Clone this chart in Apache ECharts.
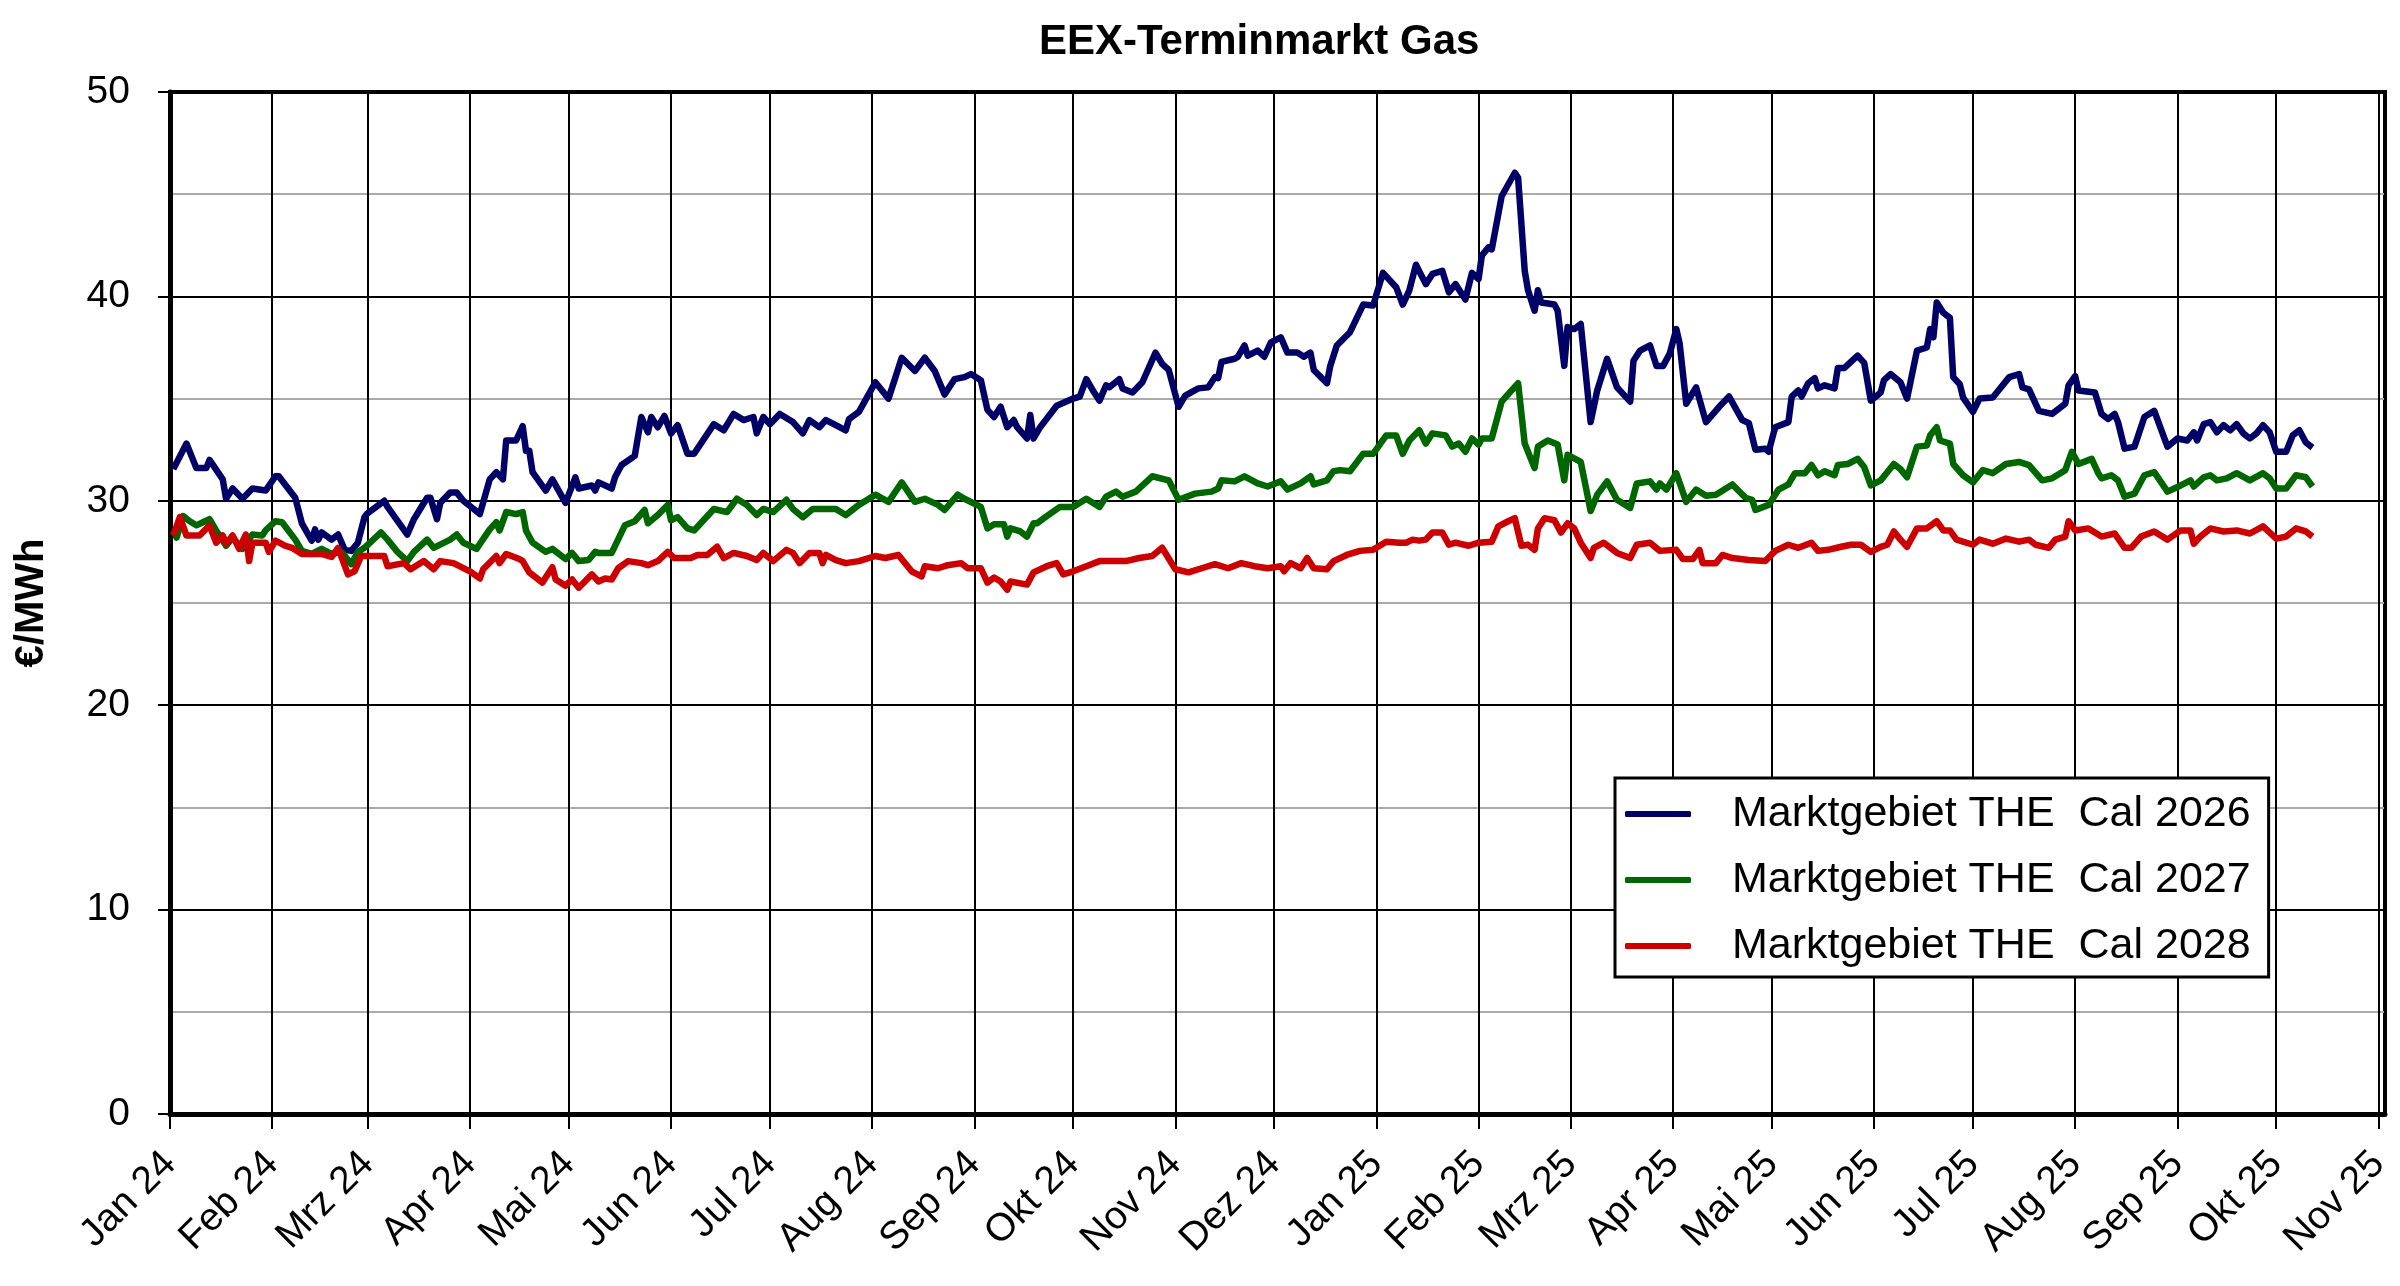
<!DOCTYPE html>
<html>
<head>
<meta charset="utf-8" />
<title>EEX-Terminmarkt Gas</title>
<script src="https://cdn.jsdelivr.net/npm/echarts@6/dist/echarts.min.js"></script>
<style>
  * { margin: 0; padding: 0; }
  html, body { width: 2400px; height: 1286px; background: #fff; }
</style>
</head>
<body>
<div id="main" style="width:2400px;height:1286px;"></div>
<script>
// Tage seit 01.01.2024, Preis in EUR/MWh
const cal2026 = [[1,31.55],[5,32.8],[8,31.6],[11,31.6],[12,32.0],[16,31.05],[17,30.1],[19,30.6],[22,30.1],[25,30.6],[29,30.5],[32,31.2],[33,31.2],[38,30.15],[40,28.9],[43,28.05],[44,28.6],[45,28.1],[46,28.45],[49,28.1],[51,28.35],[53,27.6],[55,27.55],[57,27.95],[59,29.2],[60,29.4],[65,30.0],[66,29.7],[72,28.35],[74,29.1],[78,30.15],[79,30.15],[81,29.1],[82,29.9],[85,30.4],[87,30.4],[89,30.0],[94,29.35],[97,31.05],[99,31.4],[101,31.05],[102,32.95],[105,32.95],[107,33.65],[108,32.45],[109,32.45],[110,31.4],[114,30.5],[116,31.05],[120,29.9],
  [123,31.15],[124,30.6],[128,30.75],[129,30.5],[130,30.9],[134,30.6],[135,31.15],[137,31.75],[141,32.2],[143,34.1],[145,33.35],[146,34.1],[148,33.6],[150,34.15],[152,33.3],[154,33.7],[157,32.3],[159,32.3],[165,33.75],[168,33.45],[171,34.25],[174,33.95],[177,34.1],[178,33.3],[180,34.1],[182,33.75],[185,34.25],[189,33.85],[192,33.3],[194,33.95],[197,33.6],[199,33.95],[202,33.7],[205,33.45],[206,34.0],[209,34.35],[214,35.8],[218,35.0],[222,37.0],[226,36.35],[229,37.0],[232,36.35],[235,35.2],[238,35.95],[241,36.05],[243,36.2],[246,35.9],
  [248,34.45],[250,34.1],[252,34.6],[254,33.6],[256,33.95],[257,33.6],[260,33.05],[261,34.2],[262,33.05],[264,33.6],[269,34.65],[274,35.0],[276,35.1],[278,35.95],[280,35.4],[282,34.9],[284,35.65],[285,35.55],[288,35.95],[289,35.5],[292,35.3],[295,35.8],[299,37.25],[301,36.7],[303,36.4],[306,34.6],[308,35.15],[312,35.5],[315,35.55],[317,36.05],[318,36.0],[319,36.8],[323,36.95],[324,37.05],[326,37.6],[327,37.1],[330,37.35],[332,37.05],[334,37.75],[337,38.0],[339,37.25],[342,37.25],[344,37.05],[346,37.25],[347,36.4],[351,35.75],[352,36.6],[354,37.6],[358,38.25],[362,39.6],[365,39.55],[368,41.15],[372,40.45],[374,39.6],
  [376,40.3],[378,41.55],[381,40.6],[383,41.1],[386,41.25],[388,40.2],[390,40.6],[393,39.85],[395,41.15],[397,40.85],[398,42.0],[400,42.4],[401,42.3],[404,44.9],[408,46.05],[409,45.8],[411,41.25],[412,40.3],[414,39.3],[415,40.3],[416,39.7],[420,39.6],[421,39.3],[423,36.6],[424,38.5],[426,38.4],[428,38.65],[431,33.85],[433,35.4],[436,36.95],[439,35.55],[443,34.85],[444,36.85],[446,37.35],[449,37.6],[451,36.6],[453,36.6],[455,37.2],[457,38.4],[458,37.7],[460,34.75],[463,35.55],[466,33.85],[470,34.6],[473,35.1],[477,33.95],[479,33.8],[481,32.5],[484,32.55],[485,32.4],[487,33.6],[491,33.85],[492,35.1],[494,35.4],[495,35.1],[497,35.75],[499,36.0],[500,35.5],[502,35.65],[505,35.5],
  [506,36.5],[508,36.5],[512,37.1],[514,36.75],[516,34.9],[519,35.3],[520,35.9],[522,36.2],[525,35.8],[527,35.0],[530,37.35],[533,37.5],[534,38.4],[535,38.0],[536,39.7],[538,39.2],[540,38.95],[541,36.05],[543,35.7],[544,35.05],[547,34.35],[549,35.0],[553,35.05],[558,36.05],[561,36.2],[562,35.55],[564,35.45],[567,34.4],[571,34.25],[575,34.75],[576,35.65],[578,36.1],[579,35.4],[584,35.3],[586,34.25],[588,34.0],[590,34.25],[591,33.85],[593,32.55],[596,32.65],[599,34.1],[602,34.4],[606,32.65],[609,33.05],[612,32.95],[614,33.35],[615,32.95],[617,33.75],[619,33.85],[621,33.35],[623,33.7],[625,33.45],[627,33.75],[629,33.3],[631,33.05],[633,33.3],[635,33.7],[637,33.35],[639,32.4],[642,32.4],[644,33.2],[646,33.45],[648,32.85],[650,32.6]];

const cal2027 = [[1,28.55],[2,28.2],[4,29.25],[6,29.0],[8,28.8],[10,28.95],[12,29.1],[14,28.55],[15,28.3],[17,27.8],[19,28.2],[22,27.65],[25,28.35],[28,28.3],[29,28.55],[32,29.0],[34,28.95],[38,28.1],[40,27.55],[43,27.4],[46,27.65],[49,27.4],[52,27.5],[55,26.9],[57,27.5],[59,27.7],[64,28.45],[66,28.1],[69,27.5],[72,27.05],[74,27.5],[78,28.1],[80,27.7],[85,28.1],[87,28.35],[89,27.95],[93,27.65],[97,28.6],[99,28.95],[100,28.55],[102,29.45],[105,29.35],[107,29.45],[108,28.55],[110,27.95],[114,27.5],[116,27.65],[120,27.15],
  [122,27.45],[124,27.05],[127,27.1],[129,27.5],[130,27.45],[132,27.45],[134,27.45],[138,28.8],[141,29.0],[144,29.55],[145,28.9],[148,29.3],[151,29.8],[152,29.05],[154,29.2],[157,28.65],[159,28.55],[165,29.6],[169,29.45],[172,30.1],[175,29.8],[178,29.3],[180,29.6],[183,29.45],[187,30.05],[189,29.6],[192,29.2],[195,29.6],[199,29.6],[202,29.6],[205,29.3],[209,29.8],[214,30.3],[218,29.95],[222,30.9],[226,29.95],[229,30.1],[233,29.8],[235,29.55],[239,30.3],[241,30.1],[246,29.7],
  [248,28.65],[250,28.85],[253,28.85],[254,28.25],[255,28.65],[258,28.5],[260,28.25],[262,28.9],[263,28.9],[266,29.25],[270,29.7],[274,29.7],[278,30.1],[282,29.7],[284,30.2],[287,30.45],[289,30.2],[293,30.45],[298,31.2],[303,31.0],[306,30.05],[311,30.35],[316,30.45],[318,30.6],[319,31.0],[323,30.95],[326,31.2],[330,30.85],[333,30.7],[337,30.95],[339,30.55],[343,30.85],[346,31.2],[347,30.8],[351,31.0],[353,31.45],[355,31.5],[358,31.45],[362,32.3],[365,32.3],[369,33.2],[372,33.2],[374,32.3],
  [376,32.95],[379,33.45],[381,32.8],[383,33.3],[387,33.2],[389,32.65],[391,32.8],[393,32.4],[395,33.05],[397,32.75],[398,33.05],[401,33.05],[404,34.85],[407,35.4],[409,35.75],[411,32.8],[414,31.6],[415,32.65],[418,32.95],[421,32.75],[423,31.0],[424,32.25],[428,31.9],[431,29.5],[433,30.3],[436,30.95],[439,30.05],[443,29.65],[445,30.85],[449,30.95],[451,30.55],[452,30.85],[454,30.55],[457,31.35],[460,29.95],[463,30.55],[466,30.25],[469,30.3],[474,30.8],[478,30.15],[480,30.05],[481,29.55],[485,29.8],[488,30.55],[491,30.8],[493,31.35],[496,31.35],[498,31.75],[500,31.25],[502,31.45],[505,31.25],
  [506,31.75],[509,31.8],[512,32.05],[514,31.65],[516,30.75],[519,31.0],[521,31.4],[523,31.8],[525,31.55],[527,31.15],[530,32.65],[533,32.7],[534,33.2],[536,33.6],[537,32.95],[540,32.8],[541,31.8],[544,31.25],[547,30.9],[550,31.5],[553,31.35],[557,31.8],[561,31.9],[564,31.75],[568,31.0],[571,31.1],[575,31.5],[577,32.4],[579,31.8],[583,32.05],[585,31.35],[586,31.1],[589,31.25],[591,31.0],[593,30.2],[596,30.35],[599,31.25],[602,31.4],[606,30.45],[610,30.75],[613,31.0],[614,30.7],[617,31.15],[619,31.25],[621,31.0],[624,31.1],[627,31.35],[631,31.0],[635,31.35],[637,31.1],[639,30.6],[642,30.6],[645,31.25],[648,31.15],[650,30.7]];

const cal2028 = [[1,28.3],[3,29.2],[5,28.3],[9,28.3],[12,28.8],[14,27.95],[16,28.3],[17,27.9],[19,28.3],[21,27.65],[23,28.35],[24,27.05],[25,27.95],[29,27.95],[30,27.5],[32,28.05],[35,27.8],[37,27.7],[40,27.4],[43,27.4],[46,27.4],[49,27.25],[51,27.7],[54,26.4],[56,26.55],[58,27.3],[65,27.3],[66,26.8],[71,26.95],[73,26.65],[77,27.05],[80,26.65],[82,27.05],[86,26.95],[91,26.55],[94,26.2],[95,26.65],[99,27.3],[100,26.95],[102,27.4],[106,27.15],[107,27.05],[109,26.5],[113,26.0],[116,26.75],[117,26.15],[120,25.85],
  [122,26.15],[124,25.75],[128,26.4],[130,26.05],[132,26.2],[134,26.15],[136,26.7],[139,27.05],[143,26.95],[145,26.85],[148,27.05],[151,27.5],[153,27.2],[158,27.2],[160,27.35],[163,27.35],[166,27.75],[168,27.2],[171,27.45],[175,27.3],[178,27.1],[180,27.45],[183,27.05],[187,27.6],[189,27.45],[191,26.95],[194,27.45],[197,27.45],[198,26.95],[199,27.35],[202,27.1],[205,26.95],[209,27.05],[214,27.3],[217,27.2],[221,27.35],[225,26.55],[228,26.3],[229,26.8],[233,26.7],[236,26.85],[240,26.95],[242,26.7],[246,26.7],
  [248,26.0],[250,26.25],[252,26.05],[254,25.65],[255,26.05],[260,25.9],[262,26.5],[266,26.8],[269,26.95],[271,26.4],[274,26.55],[278,26.8],[282,27.05],[286,27.05],[290,27.05],[294,27.2],[298,27.3],[301,27.7],[305,26.65],[309,26.5],[313,26.7],[317,26.9],[321,26.7],[325,26.95],[329,26.8],[333,26.7],[337,26.8],[338,26.55],[340,26.95],[343,26.7],[345,27.2],[347,26.7],[351,26.65],[353,27.05],[357,27.35],[361,27.55],[365,27.6],[369,28.0],[373,27.95],
  [375,27.95],[377,28.1],[379,28.05],[381,28.1],[383,28.45],[386,28.45],[388,27.85],[390,27.95],[394,27.8],[397,27.95],[401,28.0],[403,28.75],[406,29.0],[408,29.15],[410,27.8],[412,27.85],[414,27.6],[415,28.65],[417,29.15],[420,29.05],[422,28.45],[424,28.9],[426,28.65],[428,27.95],[431,27.2],[432,27.7],[435,27.95],[439,27.45],[443,27.2],[445,27.85],[449,27.95],[452,27.55],[457,27.6],[459,27.15],[462,27.15],[464,27.6],[465,26.95],[469,26.95],[471,27.35],[474,27.2],[479,27.1],[484,27.05],[487,27.55],[491,27.85],[494,27.7],[498,27.95],[500,27.55],[503,27.6],
  [507,27.75],[510,27.85],[513,27.85],[516,27.5],[519,27.75],[521,27.85],[523,28.5],[525,28.1],[527,27.75],[530,28.65],[533,28.65],[536,29.0],[538,28.55],[540,28.55],[542,28.1],[547,27.85],[549,28.1],[553,27.9],[557,28.15],[561,28.0],[564,28.1],[566,27.85],[570,27.7],[572,28.1],[575,28.25],[576,29.0],[578,28.55],[582,28.65],[586,28.25],[590,28.4],[593,27.7],[595,27.7],[598,28.25],[602,28.5],[606,28.1],[610,28.55],[613,28.55],[614,27.9],[616,28.25],[619,28.65],[623,28.5],[627,28.55],[631,28.4],[635,28.75],[639,28.15],[642,28.25],[645,28.65],[648,28.5],[650,28.25]];

const seriesNames = ['Marktgebiet THE  Cal 2026', 'Marktgebiet THE  Cal 2027', 'Marktgebiet THE  Cal 2028'];
const seriesColors = ['#000066', '#006600', '#cc0000'];
const monthNames = ['Jan', 'Feb', 'Mrz', 'Apr', 'Mai', 'Jun', 'Jul', 'Aug', 'Sep', 'Okt', 'Nov', 'Dez'];
const yTicks = [0, 10, 20, 30, 40, 50];

// Tagesnummer -> Zeitstempel
const toTime = d => new Date(2024, 0, 1 + d).getTime();
const toSeries = arr => arr.map(p => [toTime(p[0]), p[1]]);

const FONT = 'Liberation Sans, Arial, sans-serif';
const chart = echarts.init(document.getElementById('main'));

chart.setOption({
  animation: false,
  backgroundColor: '#fff',
  title: {
    text: 'EEX-Terminmarkt Gas',
    left: 1034,
    top: 16,
    textStyle: { fontFamily: FONT, fontSize: 42, fontWeight: 'bold', color: '#000' }
  },
  grid: {
    left: 170, right: 15, top: 92, bottom: 172,
    show: true, borderColor: '#000', borderWidth: 4
  },
  legend: {
    orient: 'vertical',
    left: 1615, top: 778,
    padding: [14, 18, 9, 10],
    backgroundColor: '#fff',
    borderColor: '#000', borderWidth: 3,
    icon: 'roundRect',
    itemWidth: 66, itemHeight: 6,
    itemGap: 22,
    textStyle: { fontFamily: FONT, fontSize: 43, color: '#000', lineHeight: 44, padding: [0, 0, 0, 36] },
    data: seriesNames
  },
  xAxis: {
    type: 'time',
    min: toTime(0),
    max: toTime(672),
    splitNumber: 22,
    minInterval: 28 * 86400000,
    maxInterval: 31 * 86400000,
    axisLine: { lineStyle: { color: '#000', width: 5 } },
    axisTick: { show: true, length: 15, lineStyle: { color: '#000', width: 2 } },
    splitLine: { show: true, lineStyle: { color: '#000', width: 2 } },
    axisLabel: {
      rotate: 45,
      margin: 44,
      fontFamily: FONT, fontSize: 39, color: '#000',
      formatter: v => {
        const d = new Date(v);
        return monthNames[d.getMonth()] + ' ' + String(d.getFullYear()).slice(2);
      }
    }
  },
  yAxis: {
    type: 'value',
    min: yTicks[0], max: yTicks[yTicks.length - 1], interval: 10,
    name: '€/MWh',
    nameLocation: 'middle',
    nameGap: 118,
    nameTextStyle: { fontFamily: FONT, fontSize: 40, fontWeight: 'bold', color: '#000' },
    axisLine: { show: true, lineStyle: { color: '#000', width: 5 } },
    axisTick: { show: true, length: 12, lineStyle: { color: '#000', width: 2 } },
    axisLabel: { margin: 40, fontFamily: FONT, fontSize: 39, color: '#000' },
    splitLine: { show: true, lineStyle: { color: '#000', width: 2 } },
    minorTick: { show: false, splitNumber: 2 },
    minorSplitLine: { show: true, lineStyle: { color: '#aaaaaa', width: 2 } }
  },
  series: [cal2026, cal2027, cal2028].map((arr, i) => ({
    name: seriesNames[i],
    type: 'line',
    data: toSeries(arr),
    showSymbol: false,
    symbol: 'none',
    color: seriesColors[i],
    lineStyle: { color: seriesColors[i], width: 6.5, join: 'round' },
    z: 3 + i
  }))
});
</script>
</body>
</html>
